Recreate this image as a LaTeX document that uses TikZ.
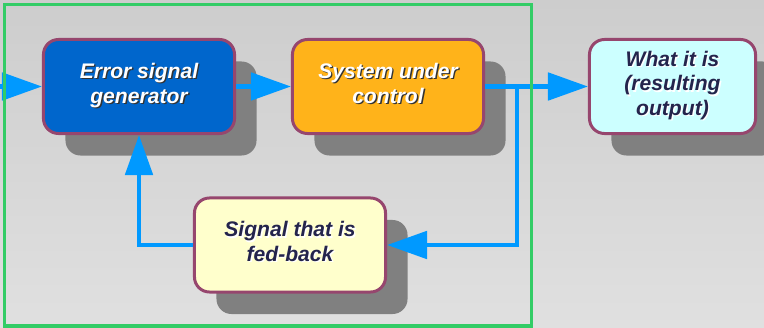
\documentclass[tikz,border=0pt]{standalone}
\usepackage{fontspec}
\setmainfont{Liberation Sans}
\usepackage{xcolor}
\usepackage{tikz}
\usetikzlibrary{arrows.meta,shadows}
\definecolor{bgtop}{HTML}{CDCDCD}
\definecolor{bgbottom}{HTML}{E0E0E0}
\definecolor{blockedge}{HTML}{96466E}
\definecolor{shadowgray}{HTML}{808080}
\definecolor{errorblue}{HTML}{0066CC}
\definecolor{plantorange}{HTML}{FFB31A}
\definecolor{outputcyan}{HTML}{CCFFFF}
\definecolor{feedyellow}{HTML}{FFFFCC}
\definecolor{labelnavy}{HTML}{24244C}
\definecolor{flowblue}{HTML}{0099FF}
\definecolor{framegreen}{HTML}{33CC66}

% text with a small cast shadow: #1 shadow colour, #2 text colour, #3 lines
\newcommand{\castlabel}[3]{%
  \rlap{\kern1pt\raisebox{-1pt}{\color{#1}\begin{tabular}{@{}c@{}}#3\end{tabular}}}%
  {\color{#2}\begin{tabular}{@{}c@{}}#3\end{tabular}}}

\begin{document}
\begin{tikzpicture}[x=0.025cm, y=-0.025cm,
  block/.style={draw=blockedge, line width=0.075cm, rounded corners=0.375cm,
    minimum width=4.775cm, minimum height=2.35cm, inner sep=0pt,
    font=\fontsize{15}{17.5}\selectfont\bfseries\itshape,
    drop shadow={shadow xshift=0.55cm, shadow yshift=-0.55cm, fill=shadowgray, opacity=1}},
  flow/.style={draw=flowblue, line width=0.1125cm, -{Triangle[length=1cm, width=0.68cm]}}]%
\clip (0,0) rectangle (764,328);%
\shade[top color=bgtop, bottom color=bgbottom] (0,0) rectangle (764,328);%
% the four blocks
\node[block, fill=errorblue] (esg) at (139,86.5) {\castlabel{black!80}{white}{Error signal\\generator}};%
\node[block, fill=plantorange] (suc) at (388,86.5) {\castlabel{black!80}{white}{System under\\control}};%
\node[block, fill=outputcyan, minimum width=4.15cm] (out) at (672.5,86.5) {\castlabel{white}{labelnavy}{What it is\\(resulting\\output)}};%
\node[block, fill=feedyellow] (fed) at (290,245) {\castlabel{white}{labelnavy}{Signal that is\\fed-back}};%
% signal paths
\coordinate (in) at (0,86.5);%
\coordinate (split) at (517,86.5);%
\draw[flow] (in) -- (esg.west);%
\draw[flow] (esg.east) -- (suc.west);%
\draw[flow] (suc.east) -- (out.west);%
\draw[flow] (split) |- (fed.east);%
\draw[flow] (fed.west) -| (esg.south);%
% loop frame
\draw[draw=framegreen, line width=0.0875cm] (4.5,4.5) rectangle (531.5,326);%
\end{tikzpicture}
\end{document}
